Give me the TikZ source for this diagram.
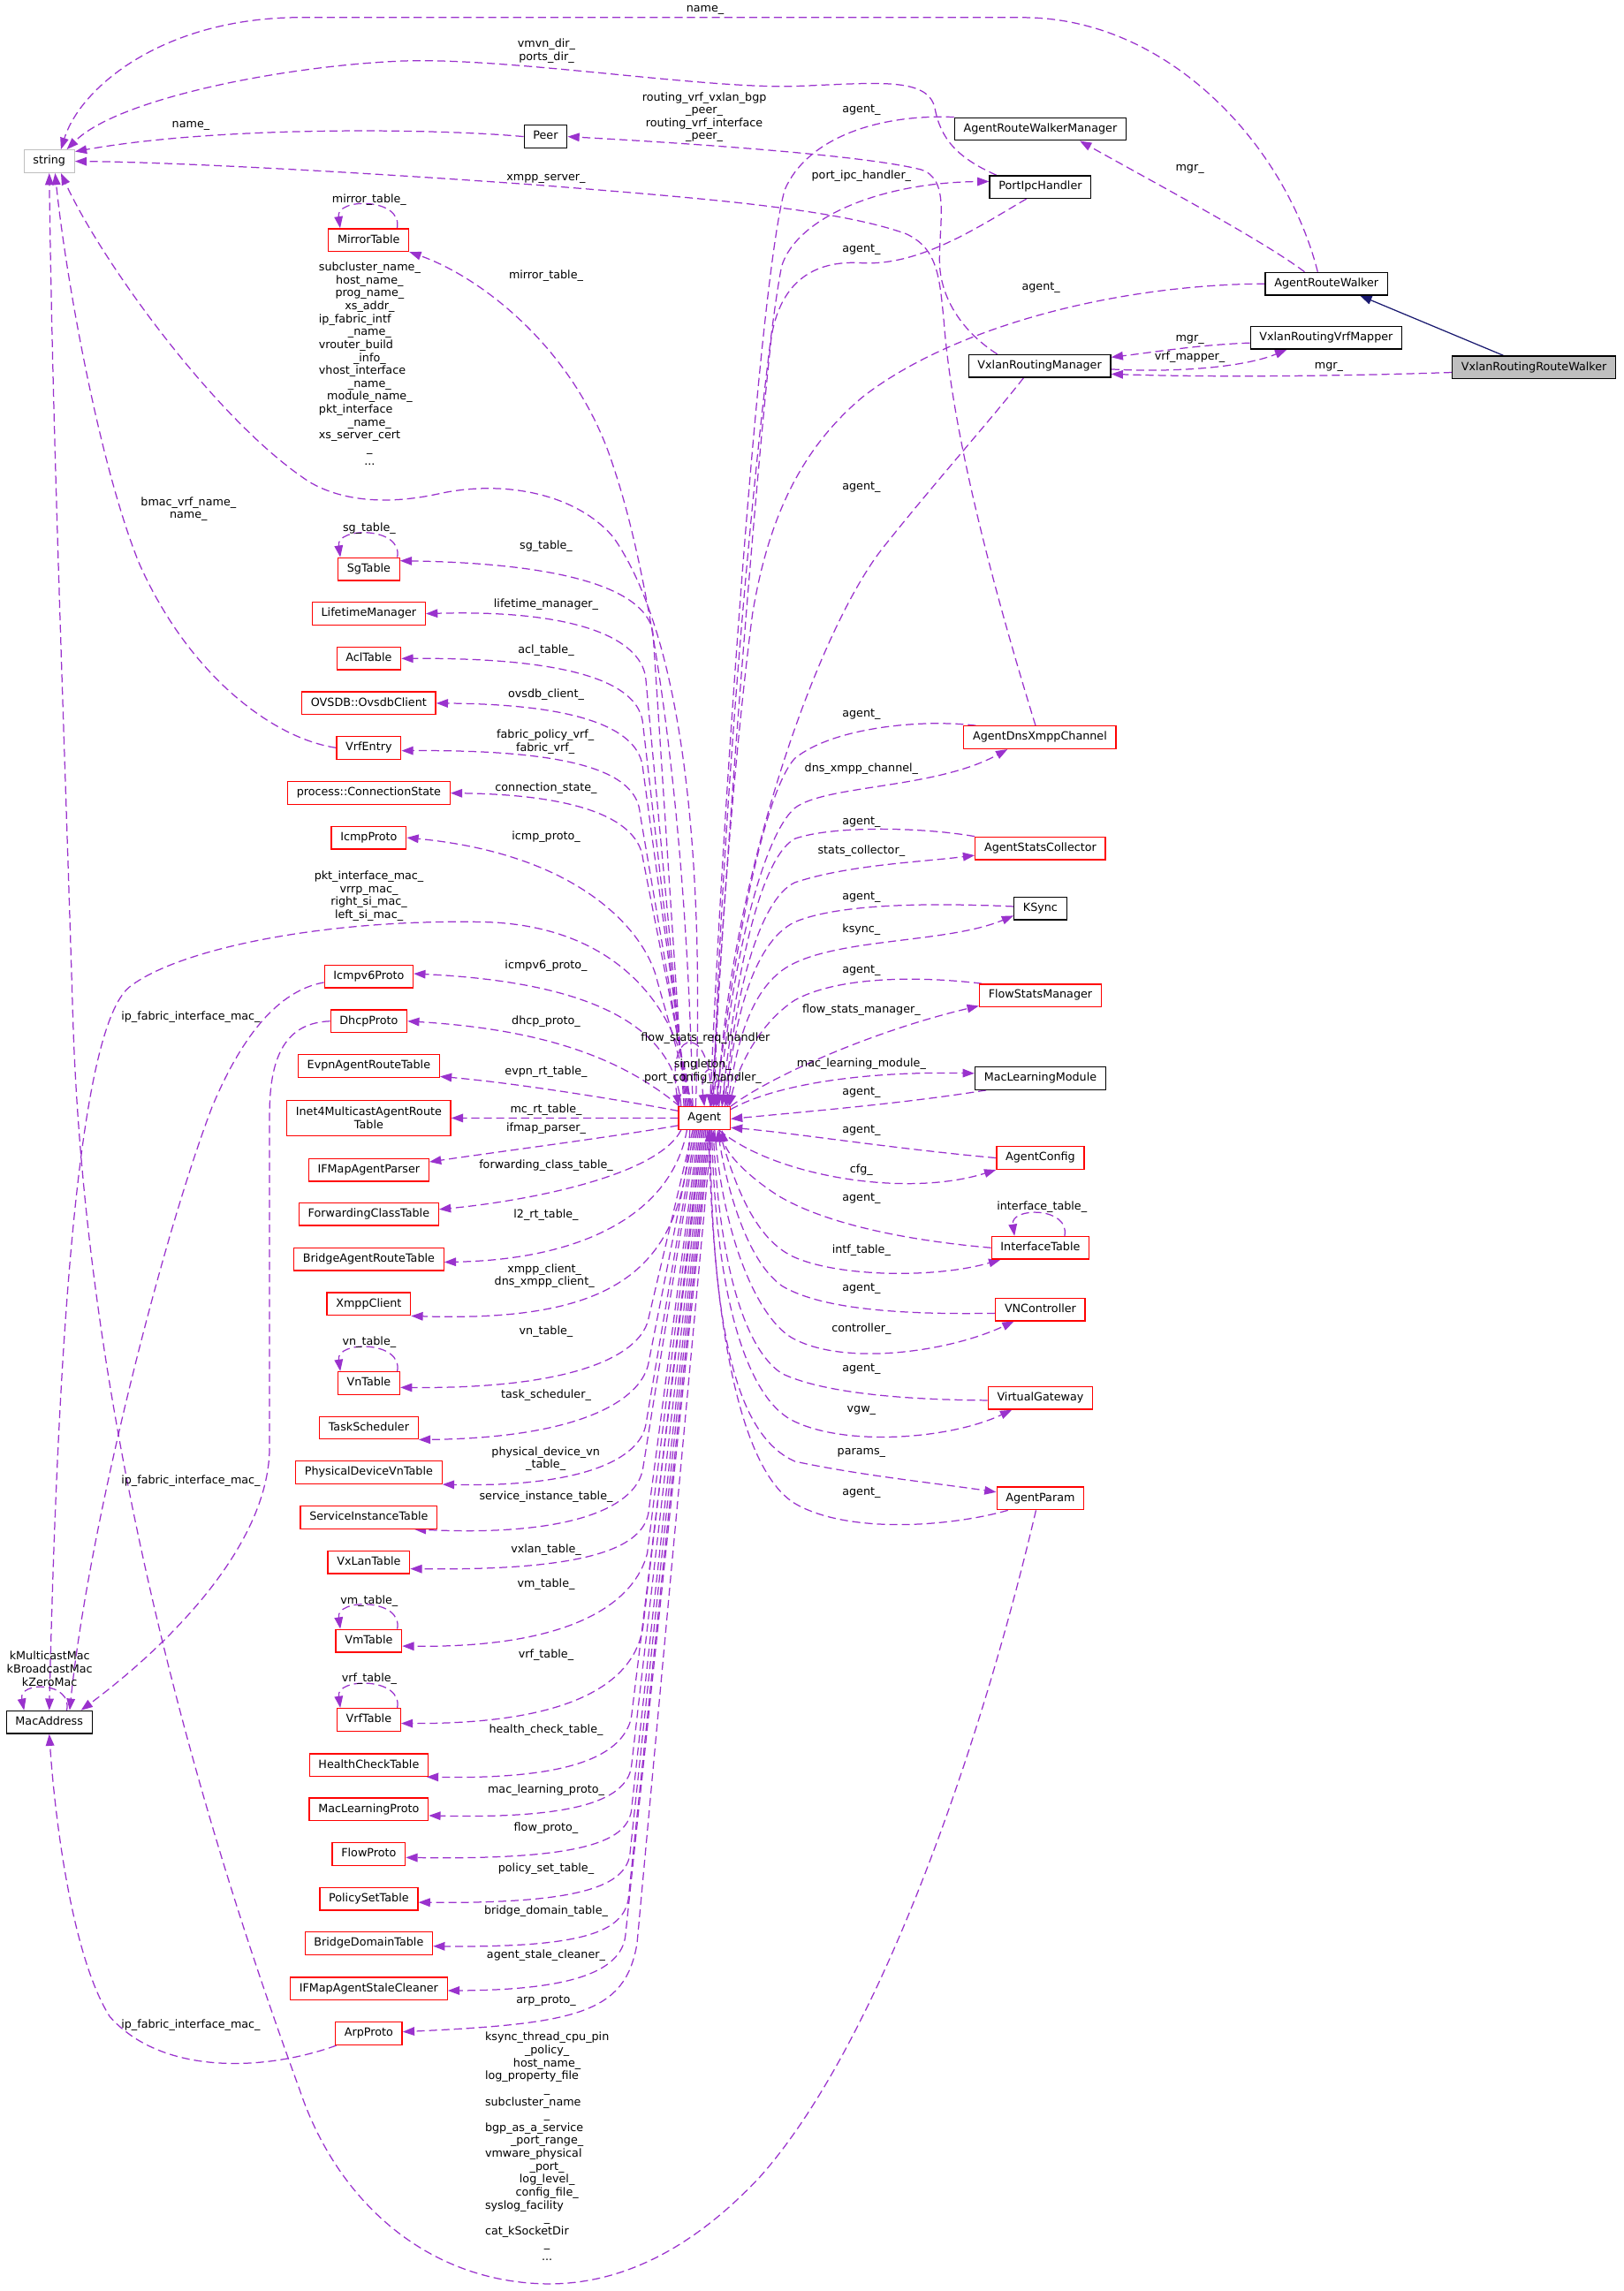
\documentclass[tikz,border=0pt]{standalone}
\usepackage{fontspec}
\setmainfont{DejaVu Sans}
\usetikzlibrary{arrows.meta,calc}
\definecolor{edgep}{HTML}{9A32CD}
\definecolor{inhc}{HTML}{191970}
\definecolor{boxred}{HTML}{FF0000}
\definecolor{boxgray}{HTML}{BFBFBF}
\newcommand{\lblfont}{\fontsize{7.7}{8.85}\selectfont}
\pgfdeclarelayer{paper}
\pgfdeclarelayer{links}
\pgfsetlayers{paper,links,main}
\begin{document}
\begin{tikzpicture}[x=1pt,y=-1pt,
  clsbase/.style={rectangle, line width=0.8pt, fill=white, inner xsep=6.2pt, inner ysep=0pt, font=\lblfont, text=black},
  cls/.style={clsbase, draw=black, minimum height=15.5pt, text height=5.6pt, text depth=1.6pt},
  redcls/.style={cls, draw=boxred},
  graycls/.style={cls, draw=boxgray},
  selcls/.style={cls, draw=black, fill=boxgray},
  edgelab/.style={font=\lblfont, inner sep=0pt, align=center, text=black},
  usedge/.style={draw=edgep, line width=0.75pt, dash pattern=on 5.5pt off 3pt, -{Triangle[length=8pt,width=5.8pt]}},
  inhedge/.style={draw=inhc, line width=0.75pt, -{Triangle[length=8pt,width=5.8pt]}}
]
\begin{pgfonlayer}{paper}
\fill[white] (0,0) rectangle (1111,1568);
\end{pgfonlayer}
\useasboundingbox (0,0) rectangle (1111,1568);

% ---------------- classes ----------------
\node[graycls] (str) at (33.7,110.4) {string};
\node[cls] (peer) at (373.4,93.5) {Peer};
\node[cls] (arwm) at (712,88.3) {AgentRouteWalkerManager};
\node[cls] (pih) at (712,128) {PortIpcHandler};
\node[cls] (arw) at (907.8,194.2) {AgentRouteWalker};
\node[cls] (vrvm) at (907.6,231.2) {VxlanRoutingVrfMapper};
\node[cls] (vrm) at (711.5,250.5) {VxlanRoutingManager};
\node[selcls] (vrrw) at (1049.8,251.4) {VxlanRoutingRouteWalker};
\node[redcls] (mirror) at (252.3,164.3) {MirrorTable};

\node[redcls] (sg) at (252.4,389.5) {SgTable};
\node[redcls] (life) at (252.4,420) {LifetimeManager};
\node[redcls] (acl) at (252.4,450.7) {AclTable};
\node[redcls] (ovsdb) at (252.4,481.3) {OVSDB::OvsdbClient};
\node[redcls] (vrfe) at (252.4,511.8) {VrfEntry};
\node[redcls] (conn) at (252.4,542.8) {process::ConnectionState};
\node[redcls] (icmp) at (252.4,573.3) {IcmpProto};
\node[redcls] (icmp6) at (252.4,668.4) {Icmpv6Proto};
\node[redcls] (dhcp) at (252.4,698.9) {DhcpProto};
\node[redcls] (evpn) at (252.4,729.6) {EvpnAgentRouteTable};
\node[clsbase, draw=boxred, align=center, minimum height=24.4pt] (inet4) at (252.4,765.2) {Inet4MulticastAgentRoute\\Table};
\node[redcls] (ifmap) at (252.4,800.7) {IFMapAgentParser};
\node[redcls] (fct) at (252.4,831) {ForwardingClassTable};
\node[redcls] (bart) at (252.4,861.8) {BridgeAgentRouteTable};
\node[redcls] (xmpp) at (252.4,892.5) {XmppClient};
\node[redcls] (vn) at (252.4,946.6) {VnTable};
\node[redcls] (task) at (252.4,977.2) {TaskScheduler};
\node[redcls] (pdvt) at (252.4,1007.8) {PhysicalDeviceVnTable};
\node[redcls] (sit) at (252.4,1038.5) {ServiceInstanceTable};
\node[redcls] (vxlan) at (252.4,1069.2) {VxLanTable};
\node[redcls] (vm) at (252.4,1123) {VmTable};
\node[redcls] (vrft) at (252.4,1177) {VrfTable};
\node[redcls] (hct) at (252.4,1208) {HealthCheckTable};
\node[redcls] (mlp) at (252.4,1238.4) {MacLearningProto};
\node[redcls] (flowp) at (252.4,1269) {FlowProto};
\node[redcls] (pst) at (252.4,1299.7) {PolicySetTable};
\node[redcls] (bdt) at (252.4,1330) {BridgeDomainTable};
\node[redcls] (stale) at (252.4,1361) {IFMapAgentStaleCleaner};
\node[redcls] (arp) at (252.4,1391.8) {ArpProto};
\node[cls] (mac) at (33.7,1178.7) {MacAddress};

\node[redcls] (agent) at (482.1,765.3) {Agent};

\node[redcls] (adxc) at (711.7,504.7) {AgentDnsXmppChannel};
\node[redcls] (asc) at (712,580.6) {AgentStatsCollector};
\node[cls] (ksync) at (712,621.7) {KSync};
\node[redcls] (fsm) at (712,681.3) {FlowStatsManager};
\node[cls] (mlm) at (712,738) {MacLearningModule};
\node[redcls] (acfg) at (712,792.5) {AgentConfig};
\node[redcls] (itab) at (712,854) {InterfaceTable};
\node[redcls] (vnc) at (712,896.2) {VNController};
\node[redcls] (vgw) at (712,956.8) {VirtualGateway};
\node[redcls] (aparam) at (712,1025.5) {AgentParam};

% ---------------- connectors ----------------
\begin{pgfonlayer}{links}
% inheritance
\draw[inhedge] ($(vrrw.north)+(-21,0)$) -- ($(arw.south)+(23,0)$);

% top area
\draw[usedge] ($(arw.north)+(-6,0)$) .. controls (880,100) and (800,12) .. (700,12) -- (200,12) .. controls (110,14) and (55,60) .. ($(str.north)+(8,0)$);
\draw[usedge] ($(pih.north west)+(5,0)$) .. controls (655,108) and (644,95) .. (640,75) .. controls (636,52) and (600,57) .. (544,59) .. controls (480,61) and (340,38) .. (270,42) .. controls (190,46) and (80,68) .. ($(str.north)+(12,0)$);
\draw[usedge] (peer.west) .. controls (300,88) and (150,86) .. ($(str.north east)+(0,1.5)$);
\draw[usedge] ($(vrm.north west)+(20,0)$) .. controls (660,228) and (643,205) .. (643,178) .. controls (643,150) and (650,122) .. (630,116) .. controls (590,106) and (470,98) .. (peer.east);
\draw[usedge] ($(adxc.north)+(-3,0)$) .. controls (682,410) and (652,300) .. (646,220) .. controls (643,190) and (642,170) .. (620,160) .. controls (570,142) and (470,135) .. (373,127) .. controls (250,118) and (120,111) .. (str.east);
\draw[usedge] ($(arw.north)+(-15,0)$) .. controls (865,165) and (790,125) .. ($(arwm.south)+(27,0)$);
\draw[usedge] ($(vrvm.west)+(0,3.5)$) .. controls (820,236) and (790,241) .. ($(vrm.east)+(0,-6)$);
\draw[usedge] ($(vrm.east)+(0,2.2)$) .. controls (800,255) and (850,252) .. ($(vrvm.south)+(-27,0)$);
\draw[usedge] ($(vrrw.west)+(0,3.5)$) .. controls (900,258) and (820,258) .. ($(vrm.east)+(0,5.5)$);

% agent_ links of the upper right classes
\draw[usedge] (arwm.north west) .. controls (600,78) and (552,95) .. (537,130) .. controls (518,200) and (492,600) .. ($(agent.north)+(4,0)$);
\draw[usedge] ($(agent.north)+(6,0)$) .. controls (496,500) and (525,230) .. (535,182) .. controls (545,150) and (600,125) .. ($(pih.west)+(0,-3.8)$);
\draw[usedge] ($(pih.south west)+(25.5,0)$) .. controls (670,155) and (630,182) .. (590,180) .. controls (560,178) and (535,190) .. (528,230) .. controls (515,350) and (496,600) .. ($(agent.north)+(5,0)$);
\draw[usedge] (arw.west) .. controls (760,195) and (650,225) .. (590,272) .. controls (545,310) and (525,360) .. (515,420) .. controls (502,520) and (490,680) .. ($(agent.north)+(7,0)$);
\draw[usedge] ($(vrm.south west)+(38,0)$) .. controls (680,285) and (640,330) .. (605,374) .. controls (560,430) and (500,600) .. ($(agent.north)+(9,0)$);

% string / mirror / mac from Agent
\draw[usedge] ($(agent.north)+(-8,0)$) .. controls (470,560) and (447,400) .. (420,320) .. controls (395,240) and (330,190) .. (mirror.south east);
\draw[usedge] ($(agent.north)+(-6,0)$) .. controls (482,600) and (470,440) .. (420,368) .. controls (395,338) and (345,328) .. (300,338) .. controls (268,345) and (236,344) .. (212,330) .. controls (150,290) and (70,180) .. ($(str.south)+(8,0)$);
\draw[usedge] (vrfe.west) .. controls (185,505) and (128,460) .. (95,385) .. controls (68,318) and (45,190) .. ($(str.south)+(4,0)$);
\draw[usedge] ($(aparam.south)+(-3,0)$) .. controls (670,1200) and (600,1400) .. (520,1490) .. controls (475,1538) and (425,1565) .. (370,1563) .. controls (290,1560) and (230,1505) .. (205,1430) .. controls (150,1280) and (60,1000) .. (50,700) .. controls (44,500) and (36,300) .. (str.south);
\draw[usedge] ($(agent.north)+(-10,0)$) .. controls (470,700) and (430,633) .. (330,631) .. controls (220,629) and (120,650) .. (88,676) .. controls (55,705) and (40,900) .. (mac.north);
\draw[usedge] ($(icmp6.west)+(0,4)$) .. controls (190,678) and (165,710) .. (145,758) .. controls (110,850) and (60,1050) .. ($(mac.north)+(14,0)$);
\draw[usedge] (dhcp.west) .. controls (196,700) and (185,722) .. (184.5,760) -- (184.5,990) .. controls (184.5,1060) and (110,1130) .. ($(mac.north east)+(-8,0)$);
\draw[usedge] ($(arp.south west)+(1,0)$) .. controls (180,1418) and (110,1420) .. (75,1380) .. controls (50,1340) and (38,1250) .. (mac.south);

% self references
\draw[usedge] ($(mirror.north)+(19.5,0)$) .. controls +(4,-21) and +(-3,-21) .. ($(mirror.north)+(-19.5,0)$);
\draw[usedge] ($(sg.north)+(19.5,0)$) .. controls +(4,-21) and +(-3,-21) .. ($(sg.north)+(-19.5,0)$);
\draw[usedge] ($(vn.north)+(19.5,0)$) .. controls +(4,-21) and +(-3,-21) .. ($(vn.north)+(-19.5,0)$);
\draw[usedge] ($(vm.north)+(19.5,0)$) .. controls +(4,-21) and +(-3,-21) .. ($(vm.north)+(-19.5,0)$);
\draw[usedge] ($(vrft.north)+(19.5,0)$) .. controls +(4,-21) and +(-3,-21) .. ($(vrft.north)+(-19.5,0)$);
\draw[usedge] ($(itab.north)+(16.6,0)$) .. controls +(4,-20) and +(-3,-20) .. ($(itab.north)+(-17.7,0)$);
\draw[usedge] ($(mac.north)+(12,0)$) .. controls +(4,-20) and +(-4,-20) .. ($(mac.north west)+(12.5,0)$);
\draw[usedge] ($(agent.north)+(4,0)$) .. controls (490,700) and (455,700) .. ($(agent.north west)+(0.5,0)$);
\draw[usedge] ($(agent.north)+(8,0)$) .. controls (495,725) and (478,725) .. (agent.north);
\draw[usedge] ($(agent.north)+(12,0)$) .. controls (500,735) and (488,735) .. ($(agent.north)+(4,0)$);

% Agent to the left column, upper part
\draw[usedge] ($(agent.north)+(-14,0)$) -- (447,434.5) .. controls (445,410) and (407,386) .. ($(sg.east)+(0,-5.7)$);
\draw[usedge] ($(agent.north)+(-13,0)$) -- (442,465) .. controls (440,440) and (402,417) .. (life.east);
\draw[usedge] ($(agent.north)+(-12,0)$) -- (440,495.7) .. controls (438,470) and (400,450) .. (acl.east);
\draw[usedge] ($(agent.north)+(-11,0)$) -- (440,526.3) .. controls (438,500) and (400,482) .. (ovsdb.east);
\draw[usedge] ($(agent.north)+(-10,0)$) -- (438,556.8) .. controls (436,530) and (398,513) .. ($(vrfe.east)+(0,2)$);
\draw[usedge] ($(agent.north)+(-9,0)$) -- (440,587.8) .. controls (437,562) and (400,544) .. (conn.east);
\draw[usedge] ($(agent.north)+(-8,0)$) -- (450,672) .. controls (443,640) and (400,585) .. (icmp.east);
\draw[usedge] ($(agent.north)+(-16,0)$) .. controls (462,700) and (400,672) .. ($(icmp6.east)+(0,-2)$);
\draw[usedge] ($(agent.north west)+(1,0)$) .. controls (430,728) and (380,705) .. (dhcp.east);
\draw[usedge] ($(agent.west)+(0,-5)$) .. controls (420,752) and (350,741) .. ($(evpn.south east)+(0,-1)$);
\draw[usedge] (agent.west) -- (inet4.east);
\draw[usedge] ($(agent.west)+(0,5)$) .. controls (420,778) and (350,787) .. ($(ifmap.east)+(0,-5.5)$);

% Agent to the left column, lower part
\draw[usedge] ($(agent.south)+(-16,0)$) .. controls (450,805) and (360,822) .. ($(fct.east)+(0,-3.3)$);
\draw[usedge] ($(agent.south)+(-12,0)$) .. controls (460,830) and (400,862) .. ($(bart.east)+(0,2)$);
\draw[usedge] ($(agent.south)+(-10,0)$) .. controls (468,870) and (420,905) .. (xmpp.south east);
\draw[usedge] ($(agent.south)+(-8,0)$) -- (444,901.6) .. controls (440,925) and (400,950.6) .. ($(vn.east)+(0,3)$);
\draw[usedge] ($(agent.south)+(-7,0)$) -- (444,932) .. controls (440,957) and (400,984) .. (task.south east);
\draw[usedge] ($(agent.south)+(-6,0)$) -- (442,975) .. controls (438,998) and (400,1018) .. (pdvt.south east);
\draw[usedge] ($(agent.south)+(-5,0)$) -- (440,1005) .. controls (436,1030) and (395,1052) .. ($(sit.south east)+(-16,0)$);
\draw[usedge] ($(agent.south)+(-4,0)$) -- (444,1034) .. controls (441,1059) and (404,1075) .. ($(vxlan.east)+(0,4.5)$);
\draw[usedge] ($(agent.south)+(-3,0)$) -- (443,1063) .. controls (435,1095) and (395,1128) .. ($(vm.east)+(0,3.6)$);
\draw[usedge] ($(agent.south)+(-2,0)$) -- (440,1114) .. controls (434,1150) and (395,1180) .. ($(vrft.east)+(0,2.5)$);
\draw[usedge] ($(agent.south)+(-1,0)$) -- (432,1176) .. controls (426,1200) and (395,1218) .. ($(hct.south east)+(-1.4,0)$);
\draw[usedge] ($(agent.south)+(0,0)$) -- (432,1210) .. controls (428,1230) and (400,1245) .. ($(mlp.east)+(0,4.2)$);
\draw[usedge] ($(agent.south)+(1,0)$) -- (432,1240) .. controls (428,1260) and (400,1273) .. ($(flowp.east)+(0,2.3)$);
\draw[usedge] ($(agent.south)+(2,0)$) -- (431,1270) .. controls (427,1290) and (400,1303) .. ($(pst.east)+(0,2.3)$);
\draw[usedge] ($(agent.south)+(3,0)$) -- (430,1300) .. controls (426,1322) and (400,1333) .. ($(bdt.east)+(0,2)$);
\draw[usedge] ($(agent.south)+(4,0)$) -- (428,1325) .. controls (425,1348) and (395,1362) .. ($(stale.east)+(0,1.4)$);
\draw[usedge] ($(agent.south)+(5,0)$) -- (436,1330) .. controls (428,1378) and (395,1385) .. ($(arp.east)+(0,-1.2)$);

% right column
\draw[usedge] ($(adxc.north west)+(8.6,0)$) .. controls (630,492) and (570,498) .. (544,519) .. controls (520,545) and (498,680) .. ($(agent.north)+(8,0)$);
\draw[usedge] ($(agent.north)+(10,0)$) .. controls (500,660) and (522,572) .. (544,553) .. controls (565,537) and (640,540) .. ($(adxc.south west)+(30.3,0)$);
\draw[usedge] (asc.north west) .. controls (630,566) and (570,565) .. (544,574) .. controls (515,590) and (500,700) .. ($(agent.north)+(12,0)$);
\draw[usedge] ($(agent.north)+(14,0)$) .. controls (502,680) and (520,615) .. (544,604) .. controls (580,592) and (630,590) .. ($(asc.west)+(0,4.8)$);
\draw[usedge] ($(ksync.west)+(0,-1.3)$) .. controls (640,618) and (575,618) .. (544,631) .. controls (515,645) and (502,700) .. ($(agent.north)+(15,0)$);
\draw[usedge] ($(agent.north)+(16,0)$) .. controls (505,700) and (520,670) .. (544,659) .. controls (580,642) and (650,645) .. ($(ksync.west)+(0,5)$);
\draw[usedge] ($(fsm.north west)+(2,0)$) .. controls (620,667) and (570,670) .. (544,684.5) .. controls (520,700) and (505,730) .. ($(agent.north)+(17,0)$);
\draw[usedge] (agent.north east) .. controls (530,735) and (600,705) .. ($(fsm.south west)+(0,-1)$);
\draw[usedge] ($(agent.east)+(0,-6)$) .. controls (525,745) and (580,733) .. ($(mlm.west)+(0,-3.4)$);
\draw[usedge] ($(mlm.south west)+(8,0)$) .. controls (620,755) and (560,760) .. ($(agent.east)+(0,0.5)$);
\draw[usedge] (acfg.west) .. controls (610,786) and (540,775) .. ($(agent.east)+(0,6.5)$);
\draw[usedge] ($(agent.south east)+(-8,0)$) .. controls (530,805) and (620,820) .. (acfg.south west);
\draw[usedge] (itab.west) .. controls (610,848) and (560,835) .. (532,818) .. controls (512,805) and (497,790) .. ($(agent.south east)+(-6,0)$);
\draw[usedge] ($(agent.south)+(10,0)$) .. controls (505,820) and (520,850) .. (544,860.6) .. controls (575,874) and (640,875) .. ($(itab.south west)+(6.5,0)$);
\draw[usedge] ($(vnc.west)+(0,2.6)$) .. controls (610,900) and (560,895) .. (535,880) .. controls (510,862) and (497,810) .. ($(agent.south)+(9,0)$);
\draw[usedge] ($(agent.south)+(7,0)$) .. controls (495,850) and (520,905) .. (544,916.7) .. controls (580,935) and (650,925) .. ($(vnc.south west)+(13,0)$);
\draw[usedge] ($(vgw.west)+(0,1.6)$) .. controls (610,958) and (560,952) .. (535,940) .. controls (505,920) and (492,850) .. ($(agent.south)+(6,0)$);
\draw[usedge] ($(agent.south)+(5,0)$) .. controls (490,900) and (515,960) .. (544,973) .. controls (580,990) and (650,985) .. ($(vgw.south west)+(16.7,0)$);
\draw[usedge] ($(agent.south)+(4,0)$) .. controls (487,930) and (510,985) .. (544,1000.2) .. controls (590,1010) and (640,1015) .. ($(aparam.west)+(0,-4.3)$);
\draw[usedge] ($(aparam.south west)+(8,0)$) .. controls (650,1045) and (580,1050) .. (544,1029) .. controls (505,1005) and (488,900) .. ($(agent.south)+(3,0)$);
\end{pgfonlayer}

% ---------------- labels ----------------
\node[edgelab] (t01) at (482.6,7.1) {name\_};
\node[edgelab] (t02) at (374,34.7) {vmvn\_dir\_\\ports\_dir\_};
\node[edgelab] (t03) at (482,80.2) {routing\_vrf\_vxlan\_bgp\\\_peer\_\\routing\_vrf\_interface\\\_peer\_};
\node[edgelab] (t04) at (130.6,86.4) {name\_};
\node[edgelab] (t05) at (373.7,122.6) {xmpp\_server\_};
\node[edgelab] (t06) at (252.7,136.7) {mirror\_table\_};
\node[edgelab] (t07) at (373.7,189) {mirror\_table\_};
\node[edgelab] (t08) at (253,250) {\begin{tabular}{@{}c@{}}
subcluster\_name\_\\
host\_name\_\\
prog\_name\_\\
xs\_addr\_\\
\multicolumn{1}{@{}l@{}}{ip\_fabric\_intf}\\
\_name\_\\
\multicolumn{1}{@{}l@{}}{vrouter\_build}\\
\_info\_\\
\multicolumn{1}{@{}l@{}}{vhost\_interface}\\
\_name\_\\
module\_name\_\\
\multicolumn{1}{@{}l@{}}{pkt\_interface}\\
\_name\_\\
\multicolumn{1}{@{}l@{}}{xs\_server\_cert}\\
\_\\
...
\end{tabular}};
\node[edgelab] (t09) at (129,348.5) {bmac\_vrf\_name\_\\name\_};
\node[edgelab] (t10) at (252.7,361.8) {sg\_table\_};
\node[edgelab] (t11) at (373.7,374.1) {sg\_table\_};
\node[edgelab] (t12) at (373.7,414) {lifetime\_manager\_};
\node[edgelab] (t13) at (373.7,445) {acl\_table\_};
\node[edgelab] (t14) at (373.7,475.6) {ovsdb\_client\_};
\node[edgelab] (t15) at (373.2,507.9) {fabric\_policy\_vrf\_\\fabric\_vrf\_};
\node[edgelab] (t16) at (373.7,539.4) {connection\_state\_};
\node[edgelab] (t17) at (373.7,572.8) {icmp\_proto\_};
\node[edgelab] (t18) at (252.5,613.2) {pkt\_interface\_mac\_\\vrrp\_mac\_\\right\_si\_mac\_\\left\_si\_mac\_};
\node[edgelab] (t19) at (373.7,660.8) {icmpv6\_proto\_};
\node[edgelab] (t20) at (130.6,696.4) {ip\_fabric\_interface\_mac\_};
\node[edgelab] (t21) at (373.7,699) {dhcp\_proto\_};
\node[edgelab] (t22) at (373.7,733.6) {evpn\_rt\_table\_};
\node[edgelab] (t23) at (373.7,759.7) {mc\_rt\_table\_};
\node[edgelab] (t24) at (373.7,772) {ifmap\_parser\_};
\node[edgelab] (t25) at (373.7,797.9) {forwarding\_class\_table\_};
\node[edgelab] (t26) at (373.7,831.8) {l2\_rt\_table\_};
\node[edgelab] (t27) at (372.6,873.3) {xmpp\_client\_\\dns\_xmpp\_client\_};
\node[edgelab] (t28) at (373.7,911.3) {vn\_table\_};
\node[edgelab] (t29) at (252.7,918.9) {vn\_table\_};
\node[edgelab] (t30) at (373.7,955.2) {task\_scheduler\_};
\node[edgelab] (t31) at (373.5,998.4) {physical\_device\_vn\\\_table\_};
\node[edgelab] (t32) at (130.6,1013.8) {ip\_fabric\_interface\_mac\_};
\node[edgelab] (t33) at (373.7,1024.6) {service\_instance\_table\_};
\node[edgelab] (t34) at (373.7,1061) {vxlan\_table\_};
\node[edgelab] (t35) at (373.7,1084.2) {vm\_table\_};
\node[edgelab] (t36) at (252.7,1095.7) {vm\_table\_};
\node[edgelab] (t37) at (373.7,1132.4) {vrf\_table\_};
\node[edgelab] (t38) at (252.7,1149.3) {vrf\_table\_};
\node[edgelab] (t39) at (34,1142.2) {kMulticastMac\\kBroadcastMac\\kZeroMac};
\node[edgelab] (t40) at (373.7,1184.3) {health\_check\_table\_};
\node[edgelab] (t41) at (373.7,1225.5) {mac\_learning\_proto\_};
\node[edgelab] (t42) at (373.7,1251.2) {flow\_proto\_};
\node[edgelab] (t43) at (373.7,1279.3) {policy\_set\_table\_};
\node[edgelab] (t44) at (373.7,1308) {bridge\_domain\_table\_};
\node[edgelab] (t45) at (373.7,1338.2) {agent\_stale\_cleaner\_};
\node[edgelab] (t46) at (373.7,1369.2) {arp\_proto\_};
\node[edgelab] (t47) at (130.6,1386) {ip\_fabric\_interface\_mac\_};
\node[edgelab] (t48) at (374.4,1470.2) {\begin{tabular}{@{}c@{}}
ksync\_thread\_cpu\_pin\\
\_policy\_\\
host\_name\_\\
\multicolumn{1}{@{}l@{}}{log\_property\_file}\\
\_\\
\multicolumn{1}{@{}l@{}}{subcluster\_name}\\
\_\\
\multicolumn{1}{@{}l@{}}{bgp\_as\_a\_service}\\
\_port\_range\_\\
\multicolumn{1}{@{}l@{}}{vmware\_physical}\\
\_port\_\\
log\_level\_\\
config\_file\_\\
\multicolumn{1}{@{}l@{}}{syslog\_facility}\\
\_\\
\multicolumn{1}{@{}l@{}}{cat\_kSocketDir}\\
\_\\
...
\end{tabular}};
\node[edgelab] (t49) at (482.8,710.6) {flow\_stats\_req\_handler};
\node[edgelab] (t50) at (481,728.8) {singleton\_};
\node[edgelab] (t51) at (481,737.9) {port\_config\_handler\_};

\node[edgelab] (t52) at (589.5,75.6) {agent\_};
\node[edgelab] (t53) at (589.5,120.5) {port\_ipc\_handler\_};
\node[edgelab] (t54) at (589.5,171) {agent\_};
\node[edgelab] (t55) at (814.3,116) {mgr\_};
\node[edgelab] (t56) at (712.4,196.6) {agent\_};
\node[edgelab] (t57) at (814.3,232.2) {mgr\_};
\node[edgelab] (t58) at (814.3,244.7) {vrf\_mapper\_};
\node[edgelab] (t59) at (909.4,251) {mgr\_};
\node[edgelab] (t60) at (589.5,333.7) {agent\_};
\node[edgelab] (t61) at (589.5,489) {agent\_};
\node[edgelab] (t62) at (589.5,526.4) {dns\_xmpp\_channel\_};
\node[edgelab] (t63) at (589.5,562.7) {agent\_};
\node[edgelab] (t64) at (589.5,582.6) {stats\_collector\_};
\node[edgelab] (t65) at (589.5,613.9) {agent\_};
\node[edgelab] (t66) at (589.5,636) {ksync\_};
\node[edgelab] (t67) at (589.5,664.4) {agent\_};
\node[edgelab] (t68) at (589.5,691) {flow\_stats\_manager\_};
\node[edgelab] (t69) at (589.5,728.4) {mac\_learning\_module\_};
\node[edgelab] (t70) at (589.5,747.6) {agent\_};
\node[edgelab] (t71) at (589.5,773.5) {agent\_};
\node[edgelab] (t72) at (589.5,800.7) {cfg\_};
\node[edgelab] (t73) at (589.5,820) {agent\_};
\node[edgelab] (t74) at (713.1,826) {interface\_table\_};
\node[edgelab] (t75) at (589.5,855.6) {intf\_table\_};
\node[edgelab] (t76) at (589.5,882.2) {agent\_};
\node[edgelab] (t77) at (589.5,909.8) {controller\_};
\node[edgelab] (t78) at (589.5,936.8) {agent\_};
\node[edgelab] (t79) at (589.5,965.3) {vgw\_};
\node[edgelab] (t80) at (589.5,994.2) {params\_};
\node[edgelab] (t81) at (589.5,1021.4) {agent\_};
\end{tikzpicture}
\end{document}
